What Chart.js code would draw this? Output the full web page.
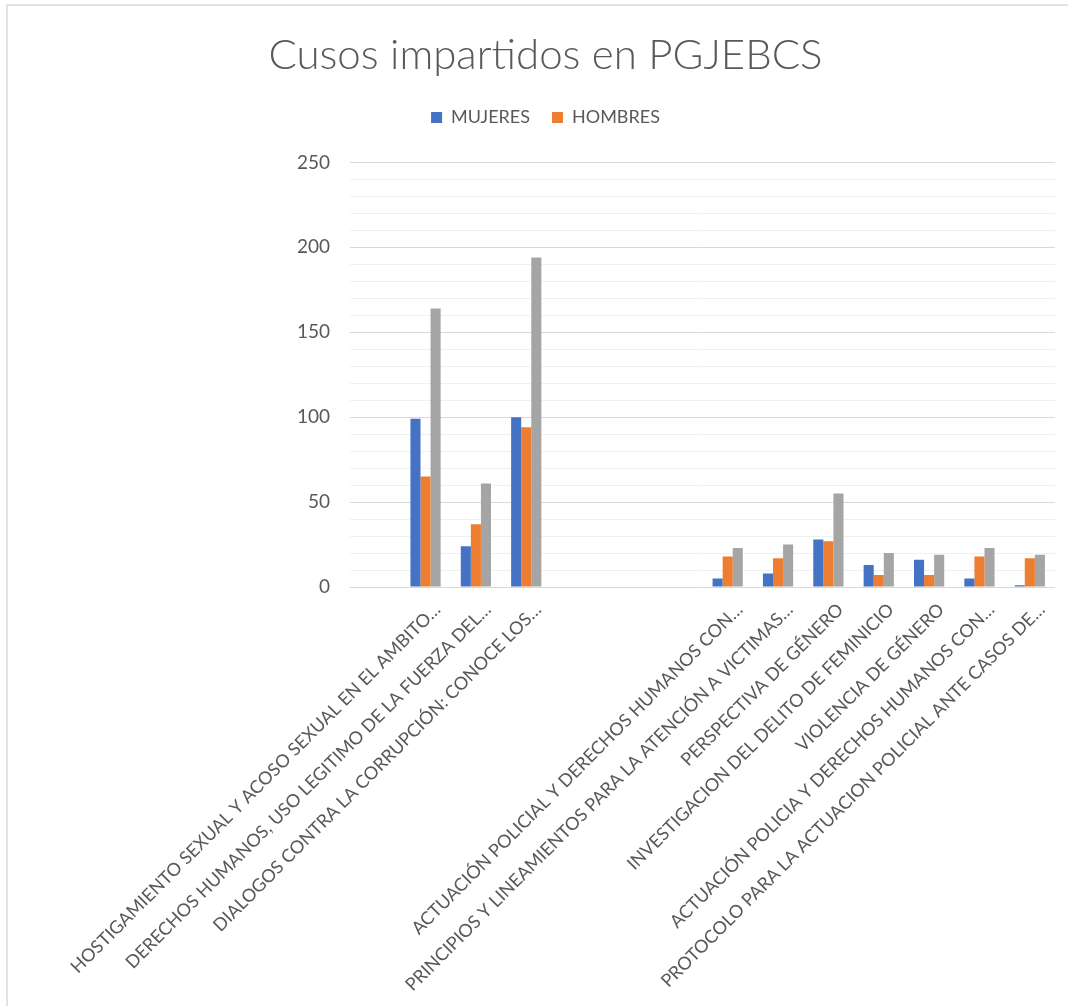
<!DOCTYPE html>
<html>
<head>
<meta charset="utf-8">
<script src="https://cdn.jsdelivr.net/npm/chart.js@4.4.1/dist/chart.umd.min.js"></script>
<style>
  html, body { margin: 0; padding: 0; background: #fff; }
  #wrap { position: relative; width: 1068px; height: 1006px; overflow: hidden; }
  .borde { position: absolute; background: #e2e2e2; }
  canvas { position: absolute; left: 0; top: 0; }
</style>
</head>
<body>
<div id="wrap">
  <div class="borde" style="left:6px; top:4px; width:1062px; height:2px;"></div>
  <div class="borde" style="left:6px; top:4px; width:2px; height:1002px;"></div>
  <canvas id="grafico" width="1068" height="1006"></canvas>
</div>
<script>
const cursos = [
    '',
    'HOSTIGAMIENTO SEXUAL Y ACOSO SEXUAL EN EL AMBITO…',
    'DERECHOS HUMANOS, USO LEGITIMO DE LA FUERZA DEL…',
    'DIALOGOS CONTRA LA CORRUPCIÓN: CONOCE LOS…',
    '',
    '',
    '',
    'ACTUACIÓN POLICIAL Y DERECHOS HUMANOS CON…',
    'PRINCIPIOS Y LINEAMIENTOS PARA LA ATENCIÓN A VICTIMAS…',
    'PERSPECTIVA DE GÉNERO',
    'INVESTIGACION DEL DELITO DE FEMINICIO',
    'VIOLENCIA DE GÉNERO',
    'ACTUACIÓN POLICIA Y DERECHOS HUMANOS CON…',
    'PROTOCOLO PARA LA ACTUACION POLICIAL ANTE CASOS DE…'
];

const mujeres = [null, 99, 24, 100, null, null, null, 5, 8, 28, 13, 16, 5, 1];
const hombres = [null, 65, 37, 94, null, null, null, 18, 17, 27, 7, 7, 18, 17];
const total   = [null, 164, 61, 194, null, null, null, 23, 25, 55, 20, 19, 23, 19];

const ejeMin = 0;
const ejeMax = 250;
const pasoMayor = 50;
const pasoMenor = 10;

const grisTexto = '#595959';
const fuente = 'Lato, "Open Sans", sans-serif';

// espacio extra debajo de la leyenda
const margenLeyenda = {
    id: 'margenLeyenda',
    beforeInit(chart) {
        const fitOriginal = chart.legend.fit;
        chart.legend.fit = function () {
            fitOriginal.call(this);
            this.height += 26;
        };
    }
};

const ctx = document.getElementById('grafico').getContext('2d');
new Chart(ctx, {
    type: 'bar',
    data: {
        labels: cursos,
        datasets: [
            { label: 'MUJERES', data: mujeres, backgroundColor: '#4472c4' },
            { label: 'HOMBRES', data: hombres, backgroundColor: '#ed7d31' },
            { label: '', data: total, backgroundColor: '#a5a5a5' }
        ]
    },
    plugins: [margenLeyenda],
    options: {
        responsive: false,
        animation: false,
        layout: { padding: { left: 36, right: 13, top: 0, bottom: 0 } },
        datasets: {
            bar: { categoryPercentage: 0.6, barPercentage: 1.0 }
        },
        plugins: {
            title: {
                display: true,
                text: 'Cusos impartidos en PGJEBCS',
                color: grisTexto,
                font: { family: fuente, size: 42, weight: '300' },
                padding: { top: 30, bottom: 6 }
            },
            legend: {
                display: true,
                position: 'top',
                labels: {
                    color: grisTexto,
                    font: { family: fuente, size: 18 },
                    boxWidth: 11,
                    boxHeight: 11,
                    padding: 22,
                    filter: item => item.text !== ''
                }
            },
            tooltip: { enabled: false }
        },
        scales: {
            x: {
                grid: { display: false },
                border: { display: false },
                ticks: {
                    autoSkip: false,
                    minRotation: 45,
                    maxRotation: 45,
                    labelOffset: 12,
                    padding: 4,
                    color: grisTexto,
                    font: { family: fuente, size: 18 }
                },
                afterFit: escala => { escala.height = 419; }
            },
            y: {
                min: ejeMin,
                max: ejeMax,
                border: { display: false },
                grid: {
                    drawTicks: false,
                    color: c => (c.tick && c.tick.value % pasoMayor === 0) ? '#d9d9d9' : '#f0f0f0',
                    lineWidth: 1
                },
                ticks: {
                    stepSize: pasoMenor,
                    maxTicksLimit: 40,
                    autoSkip: false,
                    padding: 20,
                    color: grisTexto,
                    font: { family: fuente, size: 19, lineHeight: 0.7 },
                    callback: v => (v % pasoMayor === 0 ? v : '')
                },
                afterFit: escala => { escala.width = 314; }
            }
        }
    }
});
</script>
</body>
</html>
